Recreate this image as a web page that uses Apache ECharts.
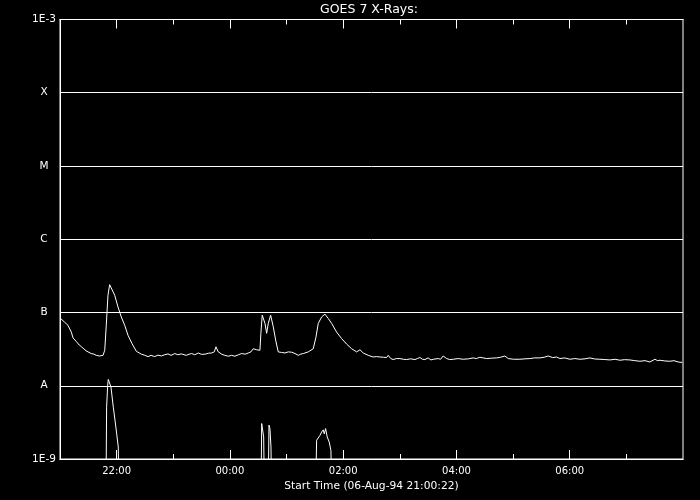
<!DOCTYPE html>
<html>
<head>
<meta charset="utf-8">
<script src="https://cdn.jsdelivr.net/npm/echarts@6/dist/echarts.min.js"></script>
<style>
html,body{margin:0;padding:0;background:#000;}
#chart{width:700px;height:500px;}
</style>
</head>
<body>
<div id="chart"></div>
<script>
// Time in decimal hours after 21:00 on 06-Aug-94 (values > 24 are the next day)
const upperTimes = [21.01,21.08,21.14,21.20,21.23,21.29,21.34,21.38,21.46,21.55,21.60,21.64,21.70,21.76,21.79,21.817,21.847,21.877,21.906,21.966,
22.024,22.082,22.142,22.200,22.271,22.347,22.435,22.49,22.553,22.61,22.672,22.73,22.788,22.85,22.906,22.96,23.025,23.08,23.141,23.229,
23.28,23.325,23.38,23.441,23.50,23.560,23.62,23.678,23.724,23.754,23.794,23.854,23.91,23.971,24.03,24.089,24.15,24.207,24.27,24.324,
24.37,24.412,24.472,24.530,24.547,24.571,24.619,24.649,24.677,24.719,24.765,24.808,24.853,24.91,24.972,25.03,25.090,25.15,25.207,25.25,
25.295,25.383,25.471,25.50,25.519,25.560,25.620,25.678,25.736,25.796,25.884,25.973,26.061,26.149,26.237,26.296,26.354,26.442,26.530,26.59,
26.649,26.71,26.767,26.795,26.84,26.883,26.94,27.002,27.06,27.120,27.19,27.267,27.31,27.355,27.40,27.443,27.50,27.55,27.590,27.678,
27.72,27.766,27.826,27.88,27.943,28.03,28.119,28.21,28.296,28.35,28.414,28.47,28.532,28.62,28.709,28.78,28.855,28.914,29.01,29.120,
29.21,29.297,29.38,29.473,29.55,29.620,29.70,29.768,29.827,29.91,30.003,30.09,30.180,30.27,30.356,30.44,30.533,30.62,30.709,30.80,
30.886,30.97,31.062,31.15,31.239,31.33,31.415,31.504,31.55,31.592,31.68,31.769,31.84,31.915,31.986];
const upperFlux = [8.3e-8,7.4e-8,6.7e-8,5.4e-8,4.5e-8,4.0e-8,3.6e-8,3.4e-8,3.0e-8,2.75e-8,2.7e-8,2.6e-8,2.55e-8,2.6e-8,3.05e-8,6.7e-8,1.72e-7,2.4e-7,2.31e-7,1.72e-7,
1.19e-7,8.7e-8,6.7e-8,4.9e-8,3.77e-8,2.96e-8,2.7e-8,2.62e-8,2.5e-8,2.6e-8,2.5e-8,2.62e-8,2.55e-8,2.65e-8,2.72e-8,2.6e-8,2.75e-8,2.65e-8,2.72e-8,2.6e-8,
2.7e-8,2.75e-8,2.65e-8,2.8e-8,2.68e-8,2.7e-8,2.78e-8,2.8e-8,2.9e-8,3.4e-8,2.9e-8,2.7e-8,2.6e-8,2.53e-8,2.6e-8,2.53e-8,2.65e-8,2.75e-8,2.7e-8,2.8e-8,
2.9e-8,3.2e-8,3.1e-8,3.05e-8,5.2e-8,9.2e-8,7.1e-8,5.2e-8,7.1e-8,9.2e-8,6.4e-8,4.2e-8,2.9e-8,2.85e-8,2.8e-8,2.9e-8,2.87e-8,2.75e-8,2.6e-8,2.7e-8,
2.75e-8,2.9e-8,3.2e-8,3.3e-8,4.6e-8,7.1e-8,8.7e-8,9.5e-8,8.3e-8,7.1e-8,5.4e-8,4.4e-8,3.7e-8,3.2e-8,2.9e-8,3.1e-8,2.8e-8,2.6e-8,2.47e-8,2.5e-8,
2.47e-8,2.45e-8,2.43e-8,2.6e-8,2.35e-8,2.28e-8,2.35e-8,2.35e-8,2.3e-8,2.28e-8,2.33e-8,2.28e-8,2.35e-8,2.43e-8,2.3e-8,2.28e-8,2.4e-8,2.25e-8,2.3e-8,2.35e-8,
2.3e-8,2.55e-8,2.35e-8,2.28e-8,2.3e-8,2.35e-8,2.3e-8,2.33e-8,2.4e-8,2.35e-8,2.45e-8,2.4e-8,2.35e-8,2.38e-8,2.4e-8,2.45e-8,2.55e-8,2.35e-8,2.3e-8,2.3e-8,
2.33e-8,2.35e-8,2.4e-8,2.4e-8,2.45e-8,2.55e-8,2.42e-8,2.47e-8,2.35e-8,2.4e-8,2.3e-8,2.35e-8,2.3e-8,2.33e-8,2.4e-8,2.32e-8,2.3e-8,2.28e-8,2.25e-8,2.3e-8,
2.23e-8,2.27e-8,2.25e-8,2.2e-8,2.16e-8,2.2e-8,2.11e-8,2.3e-8,2.2e-8,2.23e-8,2.18e-8,2.16e-8,2.2e-8,2.11e-8,2.08e-8];

// Short-wavelength channel: mostly below 1E-9 (off scale), shown only in bursts
const lowerTimes = [21.01,21.807,21.823,21.842,21.853,21.877,21.900,21.941,21.971,22.001,22.029,22.050,
24.543,24.561,24.578,24.596,24.619,24.667,24.690,24.707,24.725,24.745,
25.501,25.531,25.560,25.590,25.620,25.648,25.666,25.690,25.718,25.754,25.784,25.810,31.99];
const lowerFlux = [1e-10,1e-10,5.1e-9,1.02e-8,1.22e-8,1.19e-8,9.6e-9,5.1e-9,3.4e-9,2.2e-9,1.46e-9,1e-10,
1e-10,3.05e-9,3.1e-9,2.0e-9,1e-10,1e-10,2.9e-9,2.6e-9,1.46e-9,1e-10,
1e-10,1.8e-9,1.9e-9,2.1e-9,2.34e-9,2.5e-9,2.2e-9,2.6e-9,2.0e-9,1.7e-9,1.3e-9,1e-10,1e-10];

const majorHours = [22,24,26,28,30];
const minorHours = [23,25,27,29,31];
const yExponents = [-9,-8,-7,-6,-5,-4,-3];
const yTickLabels = ['1E-9','A','B','C','M','X','1E-3'];
const titleText = 'GOES 7 X-Rays:';
const xAxisTitle = 'Start Time (06-Aug-94 21:00:22)';

const W = '#ffffff';
const FONT = 'DejaVu Sans';
function hourLabel(h){ const hh = Math.round(h) % 24; return (hh<10?'0':'')+hh+':00'; }

function xAx(pos, ticks, len, labels){
  return {
    type:'value', min:21, max:32, position:pos, gridIndex:0,
    axisLine:{show:true, lineStyle:{color:W, width:1}},
    axisTick:{show:true, inside:true, length:len, customValues:ticks, lineStyle:{color:W, width:1}},
    axisLabel: labels ? {show:true, customValues:ticks, color:W, fontFamily:FONT, fontSize:10, margin:7, formatter:hourLabel} : {show:false},
    splitLine:{show:false}
  };
}
const xMain = xAx('bottom', majorHours, 9, true);
xMain.name = xAxisTitle;
xMain.nameLocation = 'middle';
xMain.nameGap = 20;
xMain.nameTextStyle = {color:W, fontFamily:FONT, fontSize:10.7};

const chart = echarts.init(document.getElementById('chart'), null, {renderer:'canvas'});
chart.setOption({
  backgroundColor:'#000000',
  animation:false,
  title:{text:titleText, left:369, top:3, textAlign:'center', padding:0,
    textStyle:{color:W, fontFamily:FONT, fontSize:12.5, fontWeight:'normal'}},
  grid:{left:60, right:17, top:19.5, bottom:41, show:true, borderColor:W, borderWidth:1, backgroundColor:'transparent'},
  xAxis:[xMain, xAx('bottom', minorHours, 5, false), xAx('top', majorHours, 9, false), xAx('top', minorHours, 5, false)],
  yAxis:{
    type:'log', logBase:10, min:1e-9, max:1e-3, splitNumber:6,
    axisLine:{show:true, lineStyle:{color:W, width:1}},
    axisTick:{show:false},
    axisLabel:{color:W, fontFamily:FONT, fontSize:10.5, align:'center', margin:16,
      formatter:function(v){ const e = Math.round(Math.log10(v)); const i = yExponents.indexOf(e); return i>=0 ? yTickLabels[i] : ''; }},
    splitLine:{show:true, lineStyle:{color:W, width:1, type:'solid'}}
  },
  series:[
    {type:'line', xAxisIndex:0, yAxisIndex:0, data:upperTimes.map((t,i)=>[t, upperFlux[i]]),
      showSymbol:false, symbol:'none', clip:true, lineStyle:{color:W, width:1}},
    {type:'line', xAxisIndex:0, yAxisIndex:0, data:lowerTimes.map((t,i)=>[t, lowerFlux[i]]),
      showSymbol:false, symbol:'none', clip:true, lineStyle:{color:W, width:1}}
  ]
});
</script>
</body>
</html>
